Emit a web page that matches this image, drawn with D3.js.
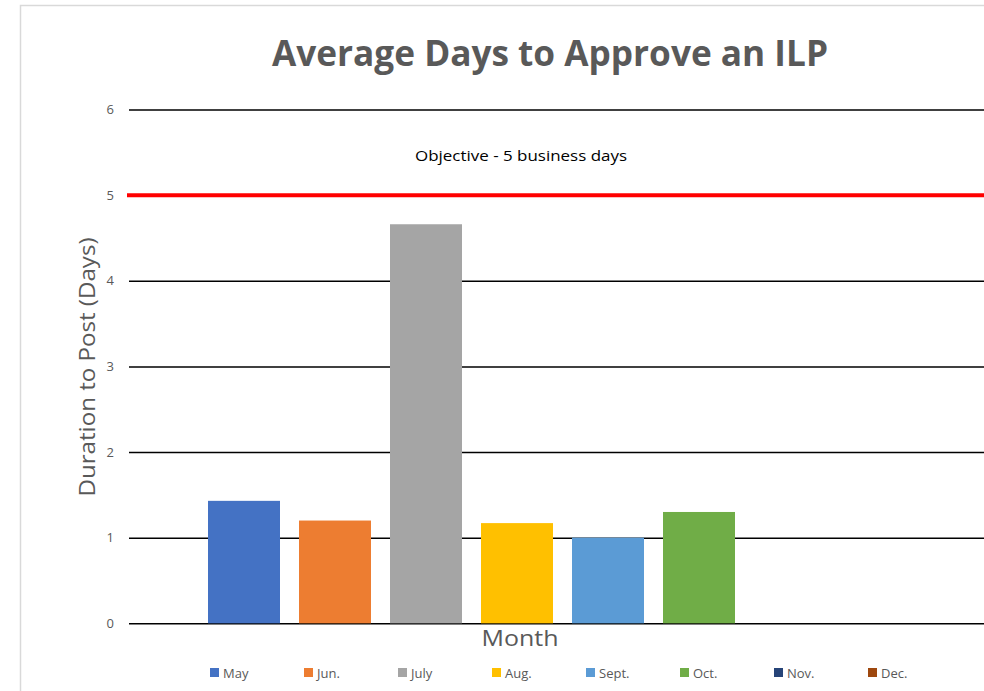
<!DOCTYPE html>
<html>
<head>
<meta charset="utf-8">
<script src="https://cdn.jsdelivr.net/npm/d3@7"></script>
<style>
  html, body { margin: 0; padding: 0; background: #fff; }
  svg { display: block; }
</style>
</head>
<body>
<svg id="chart" width="984" height="691"></svg>
<script>
const months = ["May", "Jun.", "July", "Aug.", "Sept.", "Oct.", "Nov.", "Dec."];
const values = [1.43, 1.2, 4.66, 1.17, 1.0, 1.3, 0, 0];
const colors = ["#4472C4", "#ED7D31", "#A5A5A5", "#FFC000", "#5B9BD5", "#70AD47", "#264478", "#9E480E"];
const yTicks = [0, 1, 2, 3, 4, 5, 6];
const objective = 5;
const objectiveLabel = "Objective - 5 business days";
const titleText = "Average Days to Approve an ILP";
const yTitle = "Duration to Post (Days)";
const xTitle = "Month";

const svg = d3.select("#chart");
const font = "Calibri, Carlito, 'Open Sans', 'Liberation Sans', sans-serif";

// chart border
svg.append("rect")
  .attr("x", 20.5).attr("y", 5.5)
  .attr("width", 1000).attr("height", 720)
  .attr("fill", "#fff").attr("stroke", "#d9d9d9").attr("stroke-width", 1.5);

const y = d3.scaleLinear().domain([0, 6]).range([623.3, 109.5]);
const x = d3.scaleBand().domain(months)
  .range([198.5, 926.5])
  .paddingInner(19 / 91).paddingOuter(19 / 182);

const gridX0 = 129, gridX1 = 984;

// gridlines + tick labels via axis
const yAxis = d3.axisLeft(y).tickValues(yTicks).tickSize(-(gridX1 - gridX0)).tickPadding(15).tickFormat(d3.format("d"));
const ga = svg.append("g").attr("transform", `translate(${gridX0},0)`).call(yAxis);
ga.select(".domain").remove();
ga.selectAll(".tick line").attr("stroke", "#000").attr("stroke-width", 1.5);
ga.selectAll(".tick text").attr("fill", "#595959").attr("font-size", 13)
  .attr("font-family", "'Open Sans', sans-serif");

// bars
svg.append("g").selectAll("rect").data(months).join("rect")
  .attr("x", d => x(d))
  .attr("width", x.bandwidth())
  .attr("y", (d, i) => y(values[i]))
  .attr("height", (d, i) => y(0) - y(values[i]))
  .attr("fill", (d, i) => colors[i]);

// objective line
svg.append("line")
  .attr("x1", 127).attr("x2", 984)
  .attr("y1", y(objective)).attr("y2", y(objective))
  .attr("stroke", "#FF0000").attr("stroke-width", 4);

svg.append("text")
  .attr("x", 521).attr("y", 161)
  .attr("text-anchor", "middle")
  .attr("font-family", "'Open Sans', sans-serif")
  .attr("font-size", 15).attr("fill", "#000")
  .attr("textLength", 212).attr("lengthAdjust", "spacingAndGlyphs")
  .text(objectiveLabel);

// title
svg.append("text")
  .attr("x", 550).attr("y", 66)
  .attr("text-anchor", "middle")
  .attr("font-family", "'Open Sans', sans-serif")
  .attr("font-weight", "bold")
  .attr("font-size", 35).attr("fill", "#595959")
  .attr("textLength", 556).attr("lengthAdjust", "spacingAndGlyphs")
  .text(titleText);

// y title
svg.append("text")
  .attr("transform", "translate(95,367) rotate(-90)")
  .attr("text-anchor", "middle")
  .attr("font-family", "'Open Sans', sans-serif")
  .attr("font-size", 21).attr("fill", "#595959")
  .attr("textLength", 259).attr("lengthAdjust", "spacingAndGlyphs")
  .text(yTitle);

// x title
svg.append("text")
  .attr("x", 520).attr("y", 646)
  .attr("text-anchor", "middle")
  .attr("font-family", "'Open Sans', sans-serif")
  .attr("font-size", 21).attr("fill", "#595959")
  .attr("textLength", 77).attr("lengthAdjust", "spacingAndGlyphs")
  .text(xTitle);

// legend
const lx = d3.scalePoint().domain(months).range([210, 868]);
const lg = svg.append("g").selectAll("g").data(months).join("g")
  .attr("transform", d => `translate(${lx(d)},668)`);
lg.append("rect").attr("width", 9).attr("height", 9).attr("fill", (d, i) => colors[i]);
lg.append("text").attr("x", 13).attr("y", 9.5)
  .attr("font-family", "'Open Sans', sans-serif")
  .attr("font-size", 13).attr("fill", "#595959")
  .text(d => d);
</script>
</body>
</html>
